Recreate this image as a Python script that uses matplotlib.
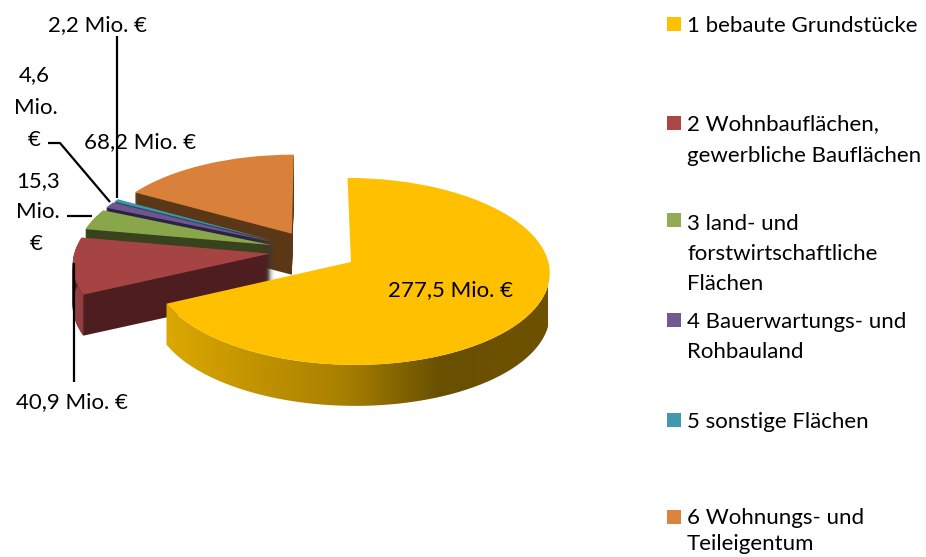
import matplotlib
matplotlib.use("Agg")
import matplotlib.pyplot as plt
import numpy as np
from matplotlib.colors import LinearSegmentedColormap
from matplotlib.patches import PathPatch, Rectangle, Wedge
from matplotlib.path import Path
from matplotlib.transforms import Affine2D, Transform

plt.rcParams['font.family'] = ['Lato', 'DejaVu Sans']

categories = ["1 bebaute Grundstücke", "2 Wohnbauflächen,\ngewerbliche Bauflächen",
              "3 land- und\nforstwirtschaftliche\nFlächen", "4 Bauerwartungs- und\nRohbauland",
              "5 sonstige Flächen", "6 Wohnungs- und\nTeileigentum"]
values = [277.5, 40.9, 15.3, 4.6, 2.2, 68.2]
explode = [0.225] * 6

top_colors = ['#FFC000', '#A64444', '#8AA64B', '#71558F', '#3E95AE', '#D9813A']
wall_colors = ['#6C5000', '#4E1D1F', '#38421C', '#2A2346', '#1E4A5A', '#5A3817']
legend_colors = ['#FFC000', '#AA4643', '#93AB55', '#71588F', '#4198AF', '#DB843D']
depth = 41
draw_order = [5, 4, 3, 2, 1, 0]
no_radial_wall = {0}
yellow_side = LinearSegmentedColormap.from_list('y', [(0, '#DCA800'), (0.47, '#A87F00'), (0.72, '#685000'), (1, '#6E5200')])
red_side = LinearSegmentedColormap.from_list('r', ['#9A4446', '#7E3436'])
side_maps = {0: (yellow_side, 165, 548), 1: (red_side, 70, 100)}


class Tilt(Transform):
    """Perspective view of the pie plane, output in figure pixels (y up)."""
    input_dims = output_dims = 2
    is_separable = False
    has_inverse = False
    cx, cy, A, B, q = 313.4, 251.0, 195.0, 90.3, 0.1

    def transform_non_affine(self, values):
        v = np.asarray(values, dtype=float)
        w = 1 + self.q * v[:, 1]
        return np.c_[self.cx + self.A * v[:, 0] / w, -self.cy + self.B * v[:, 1] / w]


tilt = Tilt()

fig = plt.figure(figsize=(9.26, 5.57), dpi=100)
ax = fig.add_axes([0, 0, 1, 1])
wedges, _ = ax.pie(values, explode=explode, startangle=90, counterclock=False, radius=1,
                   colors=top_colors, wedgeprops=dict(linewidth=0))


def placed(drop=0):
    return tilt + Affine2D().translate(0, -drop) + ax.transData


for z, i in enumerate(draw_order):
    w = wedges[i]
    base = 10 * (z + 1)
    if i not in no_radial_wall:
        for d in range(depth, 0, -1):
            ax.add_patch(Wedge(w.center, w.r, w.theta1, w.theta2, facecolor=wall_colors[i], linewidth=0,
                               transform=placed(d), zorder=base))
    if i in side_maps:
        cmap, x0, x1 = side_maps[i]
        t = np.radians(np.linspace(w.theta1, w.theta2, 300))
        rim = tilt.transform(np.c_[w.center[0] + w.r * np.cos(t), w.center[1] + w.r * np.sin(t)])
        rim = rim[(t % (2 * np.pi)) > np.pi * 0.98] if i in no_radial_wall else rim
        verts = np.r_[rim, (rim - [0, depth])[::-1], rim[:1]]
        clip = PathPatch(Path(verts), transform=ax.transData)
        im = ax.imshow(np.linspace(0, 1, 256)[None, :], cmap=cmap, aspect='auto',
                       extent=(x0, x1, -557, 0), zorder=base + 1)
        im.set_clip_path(clip)
    w.set_transform(placed())
    w.set_zorder(base + 2)

ax.set_aspect('auto')
ax.set_xlim(0, 926)
ax.set_ylim(-557, 0)
ax.axis('off')

FS = 16.0


def txt(x, y, s, ha='center'):
    ax.text(x, -y - 1.5, s, fontsize=FS, ha=ha, va='center', color='#000000', zorder=200)


# data labels
txt(97, 24, "2,2 Mio. €")
txt(34, 74, "4,6"); txt(36, 106, "Mio."); txt(34, 138, "€")
txt(140, 141, "68,2 Mio. €")
txt(38, 180, "15,3"); txt(38, 211, "Mio."); txt(36, 243, "€")
txt(72, 401, "40,9 Mio. €")
txt(450, 289, "277,5 Mio. €")

# leader lines
for xs, ys in [((117, 117), (36, 198)), ((48, 60, 110), (143, 143, 202)),
               ((67, 92), (216, 216)), ((74, 74), (263, 382))]:
    ax.plot(xs, [-v for v in ys], color='black', lw=1.6, zorder=150, solid_capstyle='butt')

# legend
legend_y = [24, 123, 220, 320, 420, 517]
line_y = [[25], [123, 154], [222, 253, 283], [320, 351], [420], [517, 543]]
for c, col, sy, ly in zip(categories, legend_colors, legend_y, line_y):
    ax.add_patch(Rectangle((667, -sy - 7), 14, 14, facecolor=col, linewidth=0, zorder=100))
    for s, y in zip(c.split("\n"), ly):
        txt(687, y, s, ha='left')

fig.savefig('out.png', dpi=100)
